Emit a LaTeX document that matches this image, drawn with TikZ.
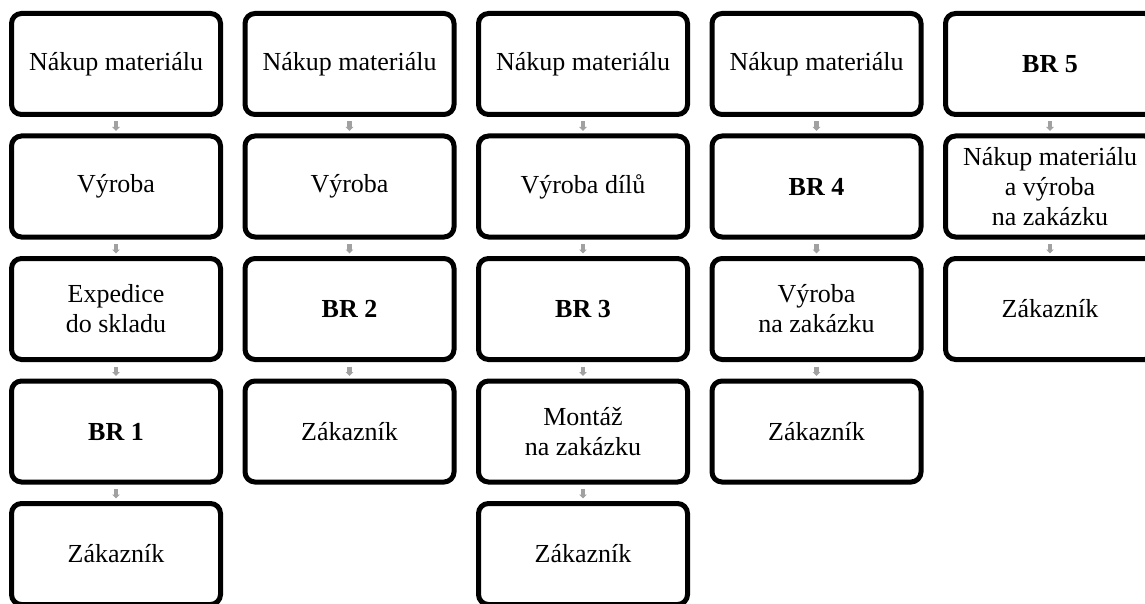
\documentclass[tikz,border=0pt]{standalone}
\usepackage{fontspec}
\setmainfont{Liberation Serif}
\usetikzlibrary{arrows.meta}

\tikzset{
  stagebox/.style={draw=black, line width=5pt, rounded corners=10pt,
    minimum width=209pt, minimum height=101pt, inner sep=0pt,
    align=center, font=\fontsize{26}{30}\selectfont, fill=white},
  flowarrow/.style={draw=black!37, line width=4.5pt,
    -{Triangle[width=7.5pt,length=4pt]}, shorten <=4.5pt, shorten >=2.5pt}
}

\begin{document}
\begin{tikzpicture}[x=1pt,y=-1pt]
  \useasboundingbox (0,0) rectangle (1145,604);
  \clip (0,0) rectangle (1145,604);

  % column 1
  \node[stagebox] (a1) at (116,64)    {Nákup materiálu};
  \node[stagebox] (a2) at (116,186.5) {Výroba};
  \node[stagebox] (a3) at (116,309)   {Expedice\\do skladu};
  \node[stagebox] (a4) at (116,431.5) {\textbf{BR 1}};
  \node[stagebox] (a5) at (116,554)   {Zákazník};

  % column 2
  \node[stagebox] (b1) at (349.5,64)    {Nákup materiálu};
  \node[stagebox] (b2) at (349.5,186.5) {Výroba};
  \node[stagebox] (b3) at (349.5,309)   {\textbf{BR 2}};
  \node[stagebox] (b4) at (349.5,431.5) {Zákazník};

  % column 3
  \node[stagebox] (c1) at (583,64)    {Nákup materiálu};
  \node[stagebox] (c2) at (583,186.5) {Výroba dílů};
  \node[stagebox] (c3) at (583,309)   {\textbf{BR 3}};
  \node[stagebox] (c4) at (583,431.5) {Montáž\\na zakázku};
  \node[stagebox] (c5) at (583,554)   {Zákazník};

  % column 4
  \node[stagebox] (d1) at (816.5,64)    {Nákup materiálu};
  \node[stagebox] (d2) at (816.5,186.5) {\textbf{BR 4}};
  \node[stagebox] (d3) at (816.5,309)   {Výroba\\na zakázku};
  \node[stagebox] (d4) at (816.5,431.5) {Zákazník};

  % column 5
  \node[stagebox] (e1) at (1050,64)    {\textbf{BR 5}};
  \node[stagebox] (e2) at (1050,186.5) {Nákup materiálu\\a výroba\\na zakázku};
  \node[stagebox] (e3) at (1050,309)   {Zákazník};

  % connectors
  \foreach \u/\v in {a1/a2,a2/a3,a3/a4,a4/a5,
                     b1/b2,b2/b3,b3/b4,
                     c1/c2,c2/c3,c3/c4,c4/c5,
                     d1/d2,d2/d3,d3/d4,
                     e1/e2,e2/e3}
    \draw[flowarrow] (\u.south) -- (\v.north);
\end{tikzpicture}
\end{document}
